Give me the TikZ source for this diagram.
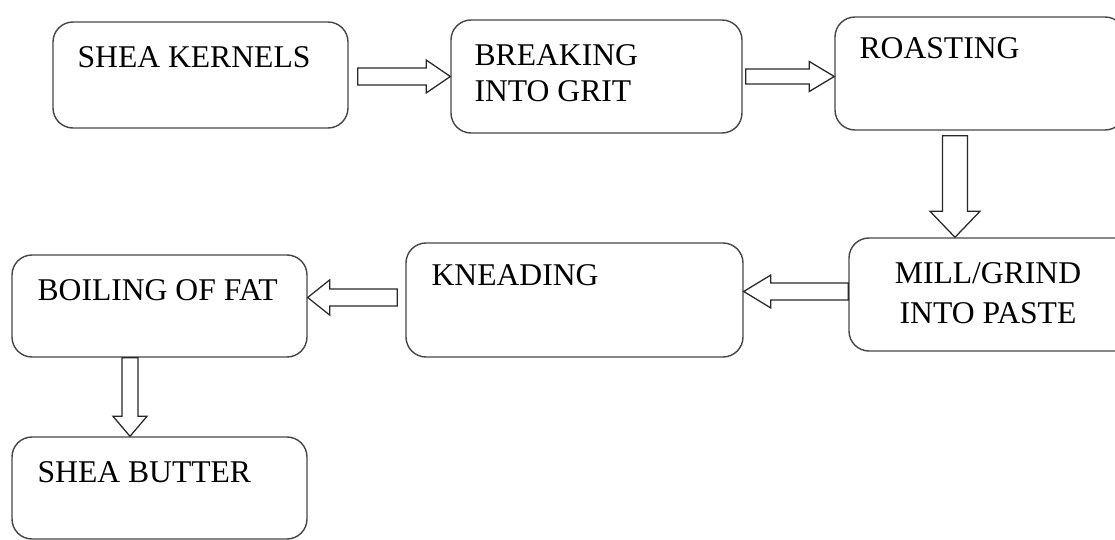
\documentclass[tikz,border=0pt]{standalone}
\usepackage{fontspec}
\setmainfont{Liberation Serif}
\usepackage{xcolor}
\usepackage{tikz}
\usetikzlibrary{calc, positioning}
\definecolor{boxline}{RGB}{70,70,70}
\definecolor{arrline}{RGB}{40,40,40}
\tikzset{
    stepbox/.style={rectangle, rounded corners=0.5cm, draw=boxline, line width=1pt, minimum width=7.375cm, minimum height=2.825cm},
    lbl/.style={inner sep=0pt, anchor=north west, align=left, font=\fontsize{22.5}{25.5}\selectfont},
    blockarr/.style={draw=arrline, line width=0.9pt, fill=white}
}
% hollow block arrow: start, tip, shaft half width, head half width, head length
\newcommand{\blockarrow}[5]{%
    \coordinate (hb) at ($(#2)!#5!(#1)$);
    \draw[blockarr] ($(#1)!#3!90:(#2)$) -- ($(hb)!#3!90:(#2)$) -- ($(hb)!#4!90:(#2)$) -- (#2)
        -- ($(hb)!#4!-90:(#2)$) -- ($(hb)!#3!-90:(#2)$) -- ($(#1)!#3!-90:(#2)$) -- cycle;
}
\begin{document}
\begin{tikzpicture}
    \useasboundingbox (0,0) rectangle (27.875,13.475);
    % Steps
    \node[stepbox, minimum height=2.65cm] (kernels) at (5.0125,11.6) {};
    \node[stepbox, minimum width=7.275cm] (breaking) at (14.9125,11.5625) {};
    \node[stepbox, minimum width=7.25cm] (roasting) at (24.5,11.6375) {};
    \node[stepbox, minimum width=7.25cm] (mill) at (24.85,6.1125) {};
    \node[stepbox, minimum width=8.425cm, minimum height=2.85cm] (kneading) at (14.3625,5.975) {};
    \node[stepbox, minimum height=2.55cm] (boiling) at (3.9875,5.825) {};
    \node[stepbox, minimum height=2.55cm] (butter) at (3.9875,1.275) {};

    % Labels
    \node[lbl] (kernels-t) at ([shift={(0.625,-0.625)}]kernels.north west) {SHEA KERNELS};
    \node[lbl] (breaking-t) at ([shift={(0.6,-0.625)}]breaking.north west) {BREAKING\\INTO GRIT};
    \node[lbl] (roasting-t) at ([shift={(0.625,-0.525)}]roasting.north west) {ROASTING};
    \node[lbl, anchor=north, align=center, font=\fontsize{22.5}{28.5}\selectfont] (mill-t) at ([shift={(-0.15,-0.625)}]mill.north) {MILL/GRIND\\INTO PASTE};
    \node[lbl] (kneading-t) at ([shift={(0.65,-0.55)}]kneading.north west) {KNEADING};
    \node[lbl] (boiling-t) at ([shift={(0.65,-0.625)}]boiling.north west) {BOILING OF FAT};
    \node[lbl] (butter-t) at ([shift={(0.65,-0.625)}]butter.north west) {SHEA BUTTER};

    % Arrows
    \coordinate (a1s) at ($(kernels.east |- breaking.west)+(0.225,0)$);
    \blockarrow{a1s}{breaking.west}{0.21cm}{0.41cm}{0.6cm}
    \coordinate (a2s) at ($(breaking.east)+(0.075,0)$);
    \coordinate (a2t) at (roasting.west |- a2s);
    \blockarrow{a2s}{a2t}{0.19cm}{0.375cm}{0.625cm}
    \coordinate (a3s) at ($(roasting.south)+(-0.625,-0.125)$);
    \coordinate (a3t) at (a3s |- mill.north);
    \blockarrow{a3s}{a3t}{0.31cm}{0.625cm}{0.65cm}
    \coordinate (a4s) at ($(mill.west)+(0,0.075)$);
    \coordinate (a4t) at (kneading.east |- a4s);
    \blockarrow{a4s}{a4t}{0.21cm}{0.41cm}{0.675cm}
    \coordinate (a5s) at ($(kneading.west)+(-0.2,0.0625)$);
    \coordinate (a5t) at (boiling.east |- a5s);
    \blockarrow{a5s}{a5t}{0.21cm}{0.44cm}{0.55cm}
    \coordinate (a6s) at ($(boiling.south)+(-0.7375,0)$);
    \coordinate (a6t) at (a6s |- butter.north);
    \blockarrow{a6s}{a6t}{0.2cm}{0.425cm}{0.5cm}
\end{tikzpicture}
\end{document}
